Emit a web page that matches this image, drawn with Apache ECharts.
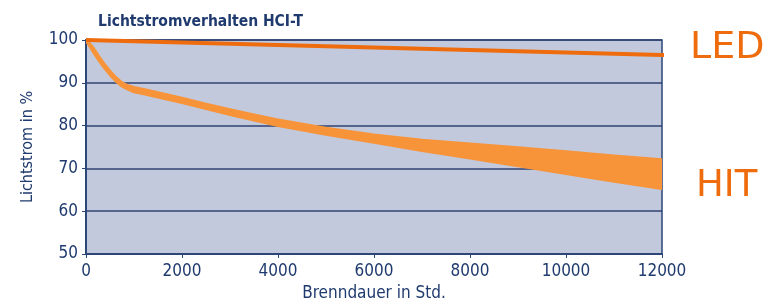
<!DOCTYPE html>
<html>
<head>
<meta charset="utf-8">
<script src="https://cdn.jsdelivr.net/npm/echarts@6/dist/echarts.min.js"></script>
<style>
  html, body { margin: 0; padding: 0; background: #fff; }
  #chart1 { width: 769px; height: 299px; }
</style>
</head>
<body>
<div id="chart1"></div>
<script>
// Brenndauer in Stunden
var stunden = [0, 125, 250, 375, 500, 625, 750, 875, 1000, 1250, 1500, 2000, 2500, 3000, 3500, 4000, 5000, 6000, 7000, 8000, 9000, 10000, 11000, 12000];
// HIT: obere und untere Kante des Streubands (Lichtstrom in %)
var hitOben  = [100, 98.5, 96.4, 94.4, 92.7, 91.2, 90.0, 89.3, 88.9, 88.3, 87.7, 86.4, 85.0, 83.7, 82.5, 81.3, 79.4, 77.8, 76.6, 75.7, 74.8, 73.9, 72.9, 72.0];
var hitUnten = [100, 97.7, 95.6, 93.6, 91.9, 90.4, 89.2, 88.5, 87.9, 87.3, 86.7, 85.4, 84.0, 82.6, 81.3, 80.0, 78.0, 76.1, 74.2, 72.4, 70.6, 68.8, 67.0, 65.3];
// LED: Verlauf, letzter Punkt fuehrt zur Beschriftung
var ledStunden = [0, 12000, 12330];
var ledWerte = [100, 96.5, 96.4];
var yTicks = [50, 60, 70, 80, 90, 100];

var navy = '#1f3a6e';
var hitOrange = '#f7943a';
var schrift = '"Liberation Sans Narrow", "DejaVu Sans Condensed", sans-serif';

var ledData = [];
for (var j = 0; j < ledStunden.length; j++) {
    ledData.push([ledStunden[j], ledWerte[j]]);
}

// Band als ein Polygon: obere Kante hin, untere Kante zurueck
function renderBand(params, api) {
    var pts = [];
    for (var i = 0; i < stunden.length; i++) {
        pts.push(api.coord([stunden[i], hitOben[i]]));
    }
    for (var k = stunden.length - 1; k >= 0; k--) {
        pts.push(api.coord([stunden[k], hitUnten[k]]));
    }
    return {
        type: 'polygon',
        shape: { points: pts },
        style: {
            fill: hitOrange,
            stroke: hitOrange,
            lineWidth: 3,
            lineJoin: 'round'
        }
    };
}

var chart = echarts.init(document.getElementById("chart1"));
var option = {
    animation: false,
    title: {
        text: 'Lichtstromverhalten HCI-T',
        left: 93,
        top: 9,
        textStyle: {
            fontFamily: schrift,
            fontSize: 15.5,
            fontWeight: 'bold',
            color: navy
        }
    },
    grid: {
        left: 86,
        top: 40,
        width: 576,
        height: 214,
        outerBoundsMode: 'none',
        containLabel: false,
        show: true,
        backgroundColor: '#c3c9dc',
        borderColor: '#2c4677',
        borderWidth: 1.5
    },
    xAxis: {
        type: 'value',
        min: 0,
        max: 12000,
        interval: 2000,
        name: 'Brenndauer in Std.',
        nameLocation: 'middle',
        nameGap: 28,
        nameTextStyle: {
            fontFamily: schrift,
            fontSize: 17,
            color: navy
        },
        axisLine: { show: true, lineStyle: { color: '#2c4677', width: 2 } },
        axisTick: { show: true, length: 4, lineStyle: { color: '#2c4677' } },
        splitLine: { show: false },
        axisLabel: {
            margin: 9,
            fontFamily: schrift,
            fontSize: 17,
            color: navy,
            formatter: function (v) { return String(v); }
        }
    },
    yAxis: {
        type: 'value',
        min: yTicks[0],
        max: yTicks[yTicks.length - 1],
        interval: 10,
        name: 'Lichtstrom in %',
        nameLocation: 'middle',
        nameGap: 50,
        nameTextStyle: {
            fontFamily: schrift,
            fontSize: 16,
            color: navy
        },
        axisLine: { show: true, lineStyle: { color: '#2c4677', width: 2 } },
        axisTick: { show: true, length: 4, lineStyle: { color: '#2c4677' } },
        splitLine: { show: true, lineStyle: { color: '#2f4272', width: 1.5 } },
        axisLabel: {
            margin: 8,
            fontFamily: schrift,
            fontSize: 17,
            color: navy
        }
    },
    graphic: [
        {
            type: 'text',
            left: 690,
            top: 29,
            style: {
                text: 'LED',
                fontFamily: '"DejaVu Sans", sans-serif',
                fontSize: 38,
                fill: '#ee6c0e'
            }
        },
        {
            type: 'text',
            left: 696,
            top: 168,
            style: {
                text: 'HIT',
                fontFamily: '"DejaVu Sans", sans-serif',
                fontSize: 37,
                fill: '#ee6c0e'
            }
        }
    ],
    series: [
        {
            name: 'HIT',
            type: 'custom',
            renderItem: renderBand,
            data: [[0, 100]],
            clip: true,
            z: 3
        },
        {
            name: 'LED',
            type: 'line',
            symbol: 'none',
            clip: false,
            data: ledData,
            lineStyle: { color: '#ee6c0e', width: 4 },
            z: 5
        }
    ]
};
chart.setOption(option, true);
</script>
</body>
</html>
